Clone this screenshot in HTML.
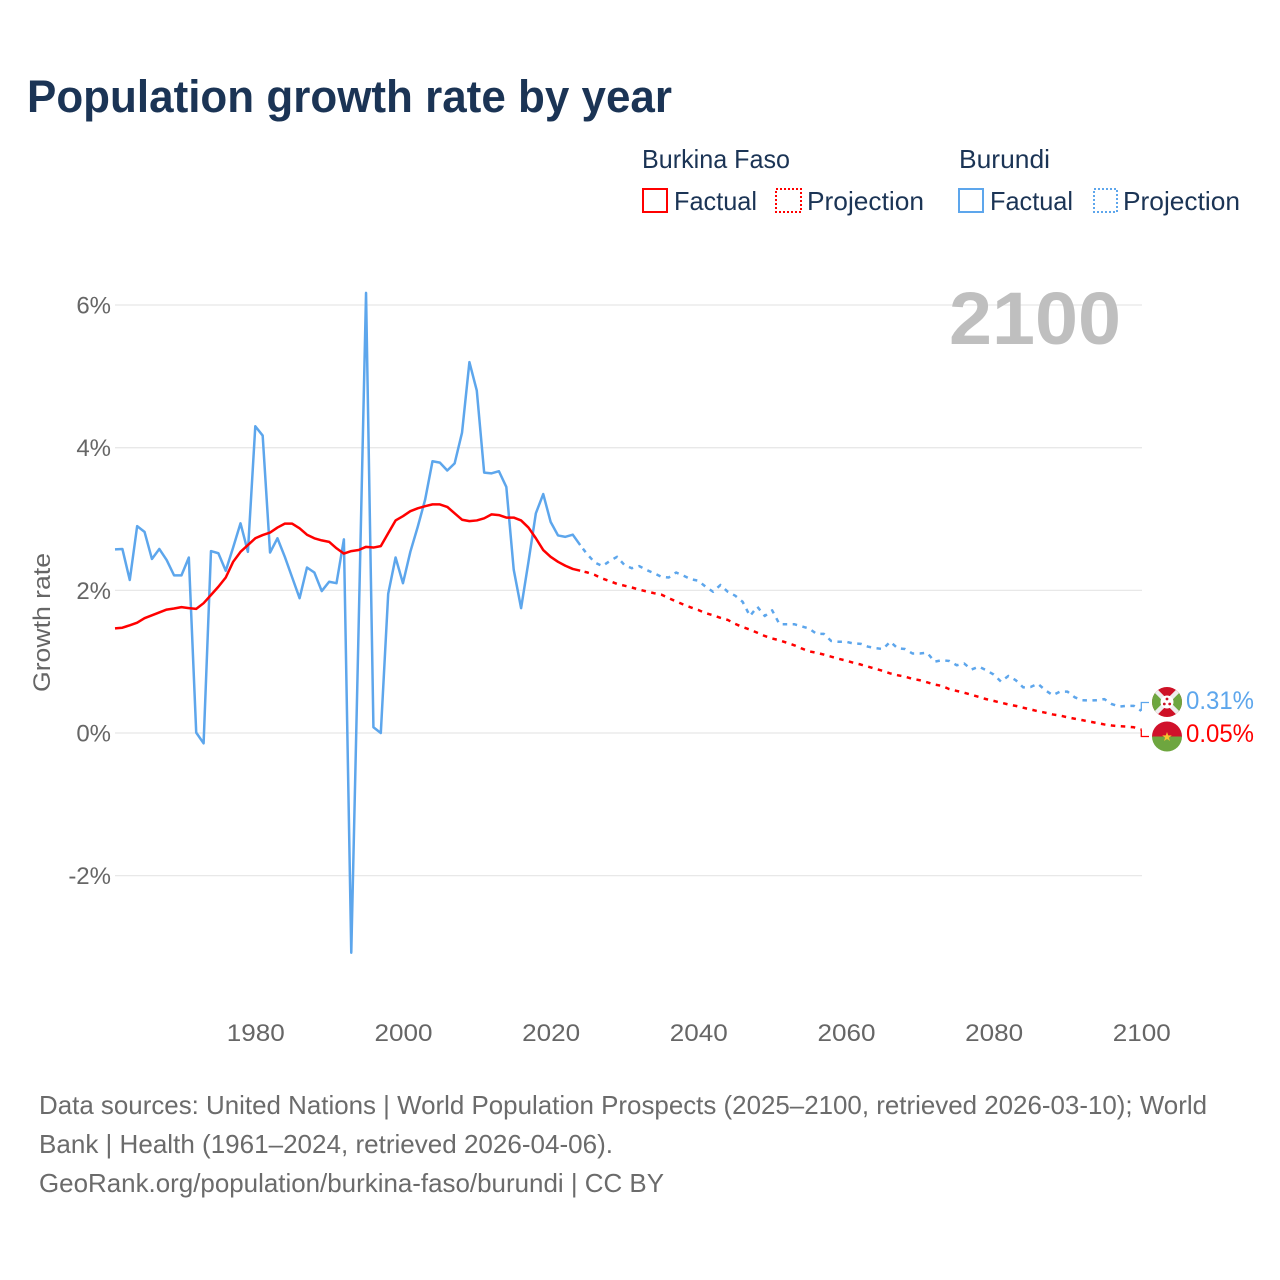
<!DOCTYPE html>
<html lang="en">
<head>
<meta charset="utf-8">
<title>Population growth rate by year</title>
<style>
html,body{margin:0;padding:0;background:#fff;}
svg{display:block;}
text{font-family:"Liberation Sans",sans-serif;}
</style>
</head>
<body>
<svg id="chart" xmlns="http://www.w3.org/2000/svg" width="1280" height="1280" viewBox="0 0 1280 1280">
  <rect width="1280" height="1280" fill="#ffffff"/>
  <text x="27" y="112" font-size="45" font-weight="700" fill="#1b3455" textLength="645" lengthAdjust="spacingAndGlyphs">Population growth rate by year</text>

  <g font-size="26" fill="#1b3455">
    <text x="642" y="168" textLength="148" lengthAdjust="spacingAndGlyphs">Burkina Faso</text>
    <text x="959" y="168" textLength="91" lengthAdjust="spacingAndGlyphs">Burundi</text>
    <rect x="643" y="189" width="24" height="23" fill="none" stroke="#ff0000" stroke-width="2"/>
    <text x="674" y="210" textLength="83" lengthAdjust="spacingAndGlyphs">Factual</text>
    <rect x="776" y="189" width="25" height="23" fill="none" stroke="#ff0000" stroke-width="2" stroke-dasharray="2 2"/>
    <text x="807" y="210" textLength="117" lengthAdjust="spacingAndGlyphs">Projection</text>
    <rect x="959" y="189" width="24" height="23" fill="none" stroke="#5da6ec" stroke-width="2"/>
    <text x="990" y="210" textLength="83" lengthAdjust="spacingAndGlyphs">Factual</text>
    <rect x="1094" y="189" width="23" height="23" fill="none" stroke="#5da6ec" stroke-width="2" stroke-dasharray="2 2"/>
    <text x="1123" y="210" textLength="117" lengthAdjust="spacingAndGlyphs">Projection</text>
  </g>

  <g id="grid"></g>
  <g id="yticks"></g>
  <g id="xticks"></g>

  <text transform="translate(50,692) rotate(-90)" font-size="24" fill="#666666" textLength="139" lengthAdjust="spacingAndGlyphs">Growth rate</text>
  <text x="949" y="344" font-size="74" font-weight="700" fill="#bfbfbf" textLength="172" lengthAdjust="spacingAndGlyphs">2100</text>

  <g id="series"></g>

  <defs>
    <clipPath id="clip-burundi"><circle cx="1167" cy="702" r="15"/></clipPath>
    <clipPath id="clip-burkina"><circle cx="1167" cy="736.5" r="15"/></clipPath>
  </defs>
  <g clip-path="url(#clip-burundi)">
    <rect x="1152" y="687" width="30" height="30" fill="#ce1126"/>
    <polygon points="1152,687 1167,702 1152,717" fill="#6ea63f"/>
    <polygon points="1182,687 1167,702 1182,717" fill="#6ea63f"/>
    <line x1="1152" y1="687" x2="1182" y2="717" stroke="#eeeeee" stroke-width="4.5"/>
    <line x1="1182" y1="687" x2="1152" y2="717" stroke="#eeeeee" stroke-width="4.5"/>
    <circle cx="1167" cy="702" r="6.5" fill="#ffffff"/>
    <circle cx="1167" cy="699" r="1.4" fill="#ce1126"/>
    <circle cx="1164.3" cy="704" r="1.4" fill="#ce1126"/>
    <circle cx="1169.7" cy="704" r="1.4" fill="#ce1126"/>
  </g>
  <g clip-path="url(#clip-burkina)">
    <rect x="1152" y="721" width="30" height="16" fill="#d0112b"/>
    <rect x="1152" y="736.5" width="30" height="16" fill="#6ea63f"/>
    <polygon points="1167,732 1168.2,735.4 1171.8,735.4 1168.9,737.6 1170,741 1167,739 1164,741 1165.1,737.6 1162.2,735.4 1165.8,735.4" fill="#f4c430"/>
  </g>

  <text id="end-label-burundi" x="1186" y="709" font-size="25" fill="#5da6ec" textLength="68" lengthAdjust="spacingAndGlyphs"></text>
  <text id="end-label-burkina" x="1186" y="742" font-size="25" fill="#ff0000" textLength="68" lengthAdjust="spacingAndGlyphs"></text>

  <g font-size="26" fill="#6b6b6b">
    <text x="39" y="1114" textLength="1168" lengthAdjust="spacingAndGlyphs">Data sources: United Nations | World Population Prospects (2025–2100, retrieved 2026-03-10); World</text>
    <text x="39" y="1153" textLength="574" lengthAdjust="spacingAndGlyphs">Bank | Health (1961–2024, retrieved 2026-04-06).</text>
    <text x="39" y="1192" textLength="625" lengthAdjust="spacingAndGlyphs">GeoRank.org/population/burkina-faso/burundi | CC BY</text>
  </g>
</svg>
<script>
var yTickValues = [-2, 0, 2, 4, 6];
var yTickLabels = ["-2%", "0%", "2%", "4%", "6%"];
var xTickYears = [1980, 2000, 2020, 2040, 2060, 2080, 2100];
var xTickLabels = ["1980", "2000", "2020", "2040", "2060", "2080", "2100"];
var factualStartYear = 1961;
var projectionStartYear = 2024;
var burkinaFactual = [1.467,1.476,1.51,1.547,1.61,1.65,1.69,1.73,1.745,1.765,1.75,1.74,1.82,1.935,2.05,2.18,2.40,2.54,2.635,2.73,2.775,2.81,2.88,2.935,2.935,2.87,2.78,2.73,2.70,2.68,2.59,2.515,2.55,2.565,2.61,2.60,2.62,2.80,2.98,3.04,3.11,3.15,3.18,3.205,3.205,3.17,3.08,2.99,2.97,2.98,3.01,3.065,3.055,3.02,3.02,2.98,2.88,2.73,2.565,2.47,2.40,2.345,2.30,2.275];
var burkinaProjection = [2.275,2.25,2.215,2.165,2.13,2.09,2.065,2.04,2.01,1.985,1.96,1.94,1.89,1.845,1.80,1.76,1.725,1.68,1.65,1.615,1.585,1.53,1.485,1.45,1.405,1.36,1.325,1.30,1.265,1.23,1.185,1.145,1.125,1.10,1.07,1.04,1.015,0.985,0.96,0.93,0.90,0.87,0.835,0.81,0.79,0.76,0.74,0.71,0.68,0.66,0.615,0.59,0.565,0.535,0.505,0.475,0.45,0.425,0.40,0.38,0.355,0.33,0.305,0.285,0.26,0.245,0.22,0.20,0.18,0.16,0.14,0.12,0.105,0.095,0.09,0.08,0.05];
var burundiFactual = [2.575,2.58,2.145,2.90,2.82,2.44,2.58,2.425,2.21,2.21,2.46,0.005,-0.145,2.55,2.52,2.275,2.6,2.94,2.54,4.30,4.17,2.53,2.73,2.47,2.18,1.89,2.32,2.25,1.99,2.12,2.10,2.715,-3.08,1.5,6.17,0.08,0.0,1.95,2.46,2.10,2.54,2.89,3.27,3.81,3.79,3.68,3.78,4.21,5.20,4.80,3.65,3.64,3.67,3.45,2.29,1.75,2.40,3.08,3.35,2.96,2.77,2.75,2.78,2.635];
var burundiProjection = [2.635,2.50,2.39,2.34,2.41,2.47,2.355,2.31,2.34,2.285,2.24,2.19,2.18,2.25,2.205,2.155,2.135,2.05,1.98,2.075,1.98,1.925,1.84,1.64,1.77,1.64,1.72,1.525,1.525,1.525,1.495,1.465,1.39,1.39,1.29,1.28,1.28,1.255,1.25,1.21,1.19,1.177,1.28,1.187,1.177,1.115,1.115,1.125,1.0,1.02,1.01,0.95,0.975,0.89,0.93,0.88,0.82,0.72,0.80,0.74,0.64,0.645,0.69,0.60,0.53,0.58,0.58,0.50,0.46,0.455,0.46,0.475,0.406,0.37,0.38,0.38,0.31];
var endValueLabels = ["0.31%", "0.05%"];

var SVG_NS = "http://www.w3.org/2000/svg";
function xScale(year) { return 115 + (year - 1961) * (1141.3 - 115) / 139; }
function yScale(value) { return 733 - value * 71.33; }
function makeEl(tag, parentId) {
  var el = document.createElementNS(SVG_NS, tag);
  document.getElementById(parentId).appendChild(el);
  return el;
}
function linePath(values, startYear) {
  return values.map(function (v, i) {
    return (i ? "L" : "M") + xScale(startYear + i).toFixed(2) + " " + yScale(v).toFixed(2);
  }).join(" ");
}
function drawSeries(values, startYear, color, dashed, name) {
  var el = makeEl("path", "series");
  
  
  el.setAttribute("d", linePath(values, startYear));
  el.setAttribute("fill", "none");
  el.setAttribute("stroke", color);
  el.setAttribute("stroke-width", "2.5");
  el.setAttribute("stroke-linejoin", "round");
  if (dashed) {
    el.setAttribute("stroke-dasharray", "4.5 5.5");
    el.setAttribute("stroke-dashoffset", "5.5");
  }
}
function drawConnector(value, targetY, color, name) {
  var x0 = xScale(2100);
  var el = makeEl("path", "series");
  
  
  el.setAttribute("d", "M" + x0 + " " + yScale(value) + " V" + targetY + " H1149");
  el.setAttribute("fill", "none");
  el.setAttribute("stroke", color);
  el.setAttribute("stroke-width", "1.3");
}

yTickValues.forEach(function (v, i) {
  var line = makeEl("line", "grid");
  
  
  line.setAttribute("x1", 115);
  line.setAttribute("x2", 1142);
  line.setAttribute("y1", yScale(v));
  line.setAttribute("y2", yScale(v));
  line.setAttribute("stroke", "#e8e8e8");
  line.setAttribute("stroke-width", "1.3");
  var t = makeEl("text", "yticks");
  
  
  t.setAttribute("x", 111);
  t.setAttribute("y", yScale(v) + 8.5);
  t.setAttribute("text-anchor", "end");
  t.setAttribute("font-size", "24");
  t.setAttribute("fill", "#666666");
  t.textContent = yTickLabels[i];
});
xTickYears.forEach(function (yr, i) {
  var t = makeEl("text", "xticks");
  
  
  t.setAttribute("x", xScale(yr) + 0.5);
  t.setAttribute("y", 1041);
  t.setAttribute("text-anchor", "middle");
  t.setAttribute("font-size", "24");
  t.setAttribute("fill", "#666666");
  t.setAttribute("textLength", "58");
  t.setAttribute("lengthAdjust", "spacingAndGlyphs");
  t.textContent = xTickLabels[i];
});

drawSeries(burundiFactual, factualStartYear, "#5da6ec", false, "line-burundi-factual");
drawSeries(burkinaFactual, factualStartYear, "#ff0000", false, "line-burkina-factual");
drawSeries(burundiProjection, projectionStartYear, "#5da6ec", true, "line-burundi-projection");
drawSeries(burkinaProjection, projectionStartYear, "#ff0000", true, "line-burkina-projection");
drawConnector(burundiProjection[burundiProjection.length - 1], 702.5, "#5da6ec", "connector-burundi");
drawConnector(burkinaProjection[burkinaProjection.length - 1], 736.5, "#ff0000", "connector-burkina-faso");
document.getElementById("end-label-burundi").textContent = endValueLabels[0];
document.getElementById("end-label-burkina").textContent = endValueLabels[1];
</script>
</body>
</html>
